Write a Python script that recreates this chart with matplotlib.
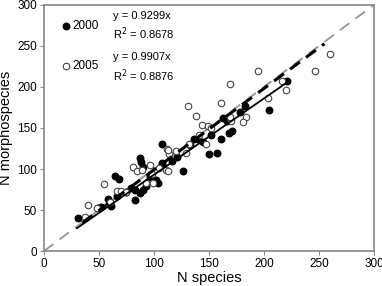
import numpy as np
import matplotlib
matplotlib.use("Agg")
import matplotlib.pyplot as plt

plt.rcParams["font.family"] = ["Liberation Sans", "DejaVu Sans"]

# 2000 (filled)
x2000 = [31, 49, 52, 58, 61, 65, 68, 66, 79, 83, 83, 87, 88, 87, 90, 90, 93, 102, 104,
         107, 107, 107.5, 126, 133, 136, 140, 150, 157, 152, 161, 168, 171, 163, 166,
         183, 205, 221, 75, 96, 116, 121, 145, 178]
y2000 = [40, 52, 54, 64, 55, 92, 88, 67, 77, 74, 62, 113, 109, 71, 75, 103, 79, 87, 83,
         105, 107, 130, 98, 129, 136, 137, 118, 120, 141, 137, 144, 146, 162, 158,
         177, 172, 207, 72, 90, 110, 115, 133, 170]
# 2005 (open)
x2005 = [37, 40, 48, 55, 66, 70, 81, 85, 89, 96, 93, 98, 99, 111, 113, 111.5, 114, 113,
         129, 132, 138, 144, 149, 141, 147, 152, 131, 161, 169, 170, 169, 184, 181,
         195, 204, 216, 220, 246, 260, 60, 75, 120, 105]
y2005 = [42, 56, 52, 82, 73, 73, 102, 98, 99, 105, 83, 94, 83, 99, 98, 125, 118, 123,
         119, 131, 165, 154, 153, 141, 130, 150, 177, 181, 203, 158, 163, 163, 157,
         220, 186, 207, 196, 219, 240, 60, 72, 122, 101]

slope2000, r2_2000 = 0.9299, 0.8678
slope2005, r2_2005 = 0.9907, 0.8876

fig = plt.figure(figsize=(3.82, 2.86), dpi=100)
ax = fig.add_axes([0.115, 0.122, 0.864, 0.861])

line = np.array([0, 300])
ax.plot(line, line, color="#999999", lw=1.4, ls=(0, (6, 4)), zorder=1)

ax.scatter(x2000, y2000, s=22, color="black", zorder=3)
ax.scatter(x2005, y2005, s=22, facecolor="white", edgecolor="#444444", lw=0.8, zorder=3)

xs = np.array([30, 220])
ax.plot(xs, slope2000 * xs, color="black", lw=1.3, zorder=4)
xd = np.array([35, 255])
ax.plot(xd, slope2005 * xd, color="black", lw=2.2, ls=(0, (4, 2.5)), zorder=4)

ax.scatter([20], [274], s=22, color="black")
ax.scatter([20], [225], s=22, facecolor="white", edgecolor="#444444", lw=0.8)
ax.text(25.5, 274, "2000", fontsize=8.5, va="center")
ax.text(25.5, 225, "2005", fontsize=8.5, va="center")
ax.text(63, 287, f"y = {slope2000}x", fontsize=8, va="center")
ax.text(63, 265, f"R$^2$ = {r2_2000}", fontsize=8, va="center")
ax.text(63, 236, f"y = {slope2005}x", fontsize=8, va="center")
ax.text(63, 214, f"R$^2$ = {r2_2005}", fontsize=8, va="center")

ax.set_xlim(0, 300)
ax.set_ylim(0, 300)
ax.set_xticks(range(0, 301, 50))
ax.set_yticks(range(0, 301, 50))
for s in ax.spines.values():
    s.set_color("#888888")
    s.set_linewidth(1.2)
ax.tick_params(direction="out", length=3, color="#888888", labelsize=8.5, pad=2)
ax.set_xlabel("N species", fontsize=10.5, labelpad=1)
ax.set_ylabel("N morphospecies", fontsize=10.5, labelpad=3)

plt.savefig("out.png", dpi=100)
